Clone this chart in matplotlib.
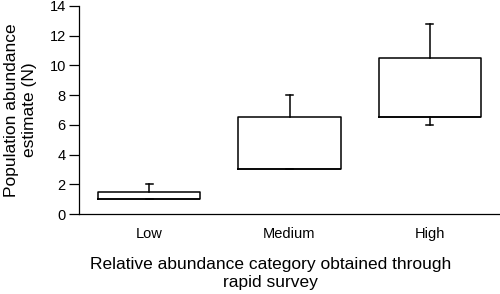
import matplotlib
matplotlib.use("Agg")
from matplotlib import pyplot as plt

# values
categories = ["Low", "Medium", "High"]
q1 = [1.0, 3.0, 6.5]
q3 = [1.5, 6.5, 10.5]
medians = [1.0, 3.0, 6.5]
whisker_low = [1.0, 3.0, 6.0]
whisker_high = [2.0, 8.0, 12.8]
y_ticks = [0, 2, 4, 6, 8, 10, 12, 14]

plt.rcParams['font.family'] = ['Liberation Sans', 'DejaVu Sans']

fig = plt.figure(figsize=(5, 2.94), dpi=100)
ax = fig.add_axes([0.158, 0.272, 0.842, 0.708])

stats = []
for name, lo, a, m, b, hi in zip(categories, whisker_low, q1, medians, q3, whisker_high):
    stats.append({"label": name, "whislo": lo, "q1": a, "med": m, "q3": b, "whishi": hi})

line = dict(color="black", linewidth=1.1)
ax.bxp(stats, positions=[1, 2, 3], widths=0.73, capwidths=0.05,
       showfliers=False, boxprops=line, whiskerprops=line, capprops=line,
       medianprops=dict(color="black", linewidth=1.1))

ax.set_xlim(0.5, 3.5)
ax.set_ylim(0, 14)
ax.set_yticks(y_ticks)
ax.tick_params(axis="y", labelsize=10.5, length=7.5, width=0.9, pad=2)
ax.tick_params(axis="x", labelsize=10.5, length=0, pad=9)

for side in ["top", "right"]:
    ax.spines[side].set_visible(False)
for side in ["left", "bottom"]:
    ax.spines[side].set_linewidth(0.9)

ax.set_ylabel("Population abundance\nestimate (N)", fontsize=12.5, linespacing=1.25)
ax.yaxis.set_label_coords(-0.1, 0.5)
ax.set_xlabel("Relative abundance category obtained through\nrapid survey",
              fontsize=12.5, linespacing=1.3)
ax.xaxis.set_label_coords(0.454, -0.205)
ax.xaxis.label.set_va("top")

fig.savefig("out.png", dpi=100)
